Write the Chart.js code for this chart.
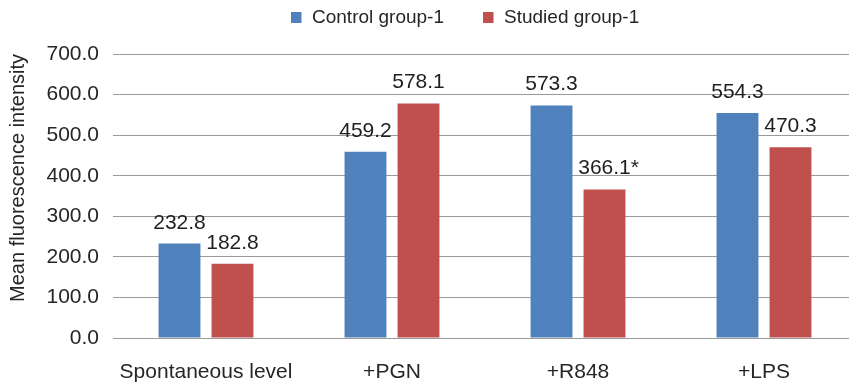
<!DOCTYPE html>
<html>
<head>
<meta charset="utf-8">
<script src="https://cdn.jsdelivr.net/npm/chart.js@4/dist/chart.umd.min.js"></script>
<style>
html,body{margin:0;padding:0;background:#fff;overflow:hidden;width:849px;height:385px;}
canvas{display:block;}
</style>
</head>
<body>
<canvas id="c" width="858" height="385"></canvas>
<script>
const categories = ['Spontaneous level', '+PGN', '+R848', '+LPS'];
const controlValues = [232.8, 459.2, 573.3, 554.3];
const studiedValues = [182.8, 578.1, 366.1, 470.3];
const controlMarks = ['', '', '', ''];
const studiedMarks = ['', '', '*', ''];
const seriesNames = ['Control group-1', 'Studied group-1'];
const yTicks = [0, 100, 200, 300, 400, 500, 600, 700];

const FONT = "'Liberation Sans', Arial, sans-serif";
const BLUE = '#4F81BD';
const RED = '#C0504D';

const valueLabels = {
  id: 'valueLabels',
  afterDatasetsDraw(chart) {
    const ctx = chart.ctx;
    ctx.save();
    ctx.font = '21px ' + FONT;
    ctx.fillStyle = '#1f1f1f';
    ctx.textAlign = 'left';
    ctx.textBaseline = 'alphabetic';
    const marks = [controlMarks, studiedMarks];
    chart.data.datasets.forEach((ds, di) => {
      const meta = chart.getDatasetMeta(di);
      meta.data.forEach((bar, i) => {
        const num = ds.data[i].toFixed(1);
        const w = ctx.measureText(num).width;
        ctx.fillText(num + marks[di][i], bar.x - w / 2, bar.y - 15);
      });
    });
    ctx.restore();
  }
};

const customLegend = {
  id: 'customLegend',
  afterDraw(chart) {
    const ctx = chart.ctx;
    ctx.save();
    ctx.font = '19px ' + FONT;
    ctx.textBaseline = 'middle';
    ctx.textAlign = 'left';
    let x = chart.chartArea.left + 178;
    const yMid = 17.5;
    chart.data.datasets.forEach((ds, di) => {
      ctx.fillStyle = ds.backgroundColor;
      ctx.fillRect(x, yMid - 5.5, 10.5, 11);
      ctx.fillStyle = '#262626';
      const tx = x + 21;
      ctx.fillText(ds.label, tx, yMid);
      x = tx + ctx.measureText(ds.label).width + 39;
    });
    ctx.restore();
  }
};

new Chart(document.getElementById('c'), {
  type: 'bar',
  data: {
    labels: categories,
    datasets: [
      { label: seriesNames[0], data: controlValues, backgroundColor: BLUE, borderWidth: 0,
        categoryPercentage: 0.57, barPercentage: 0.79 },
      { label: seriesNames[1], data: studiedValues, backgroundColor: RED, borderWidth: 0,
        categoryPercentage: 0.57, barPercentage: 0.79 }
    ]
  },
  options: {
    responsive: false,
    animation: false,
    devicePixelRatio: 1,
    layout: { padding: { top: 54, bottom: 0, left: 4, right: 1 } },
    plugins: {
      legend: { display: false },
      tooltip: { enabled: false }
    },
    scales: {
      x: {
        grid: { display: false, drawTicks: false },
        border: { display: false },
        ticks: { font: { family: FONT, size: 21 }, color: '#262626', padding: 22, maxRotation: 0 },
        afterFit(scale) { scale.height = 47; }
      },
      y: {
        min: 0, max: 700,
        afterBuildTicks(axis) { axis.ticks = yTicks.map(v => ({ value: v })); },
        grid: { color: '#9a9a9a', lineWidth: 1, drawTicks: false },
        border: { display: false },
        ticks: {
          font: { family: FONT, size: 21 }, color: '#262626', padding: 14,
          callback: v => Number(v).toFixed(1)
        },
        title: {
          display: true, text: 'Mean fluorescence intensity', align: 'end',
          font: { family: FONT, size: 20 }, color: '#262626',
          padding: { top: 2, bottom: 18 }
        },
        afterFit(scale) { scale.width = 109; }
      }
    }
  },
  plugins: [valueLabels, customLegend]
});
</script>
</body>
</html>
